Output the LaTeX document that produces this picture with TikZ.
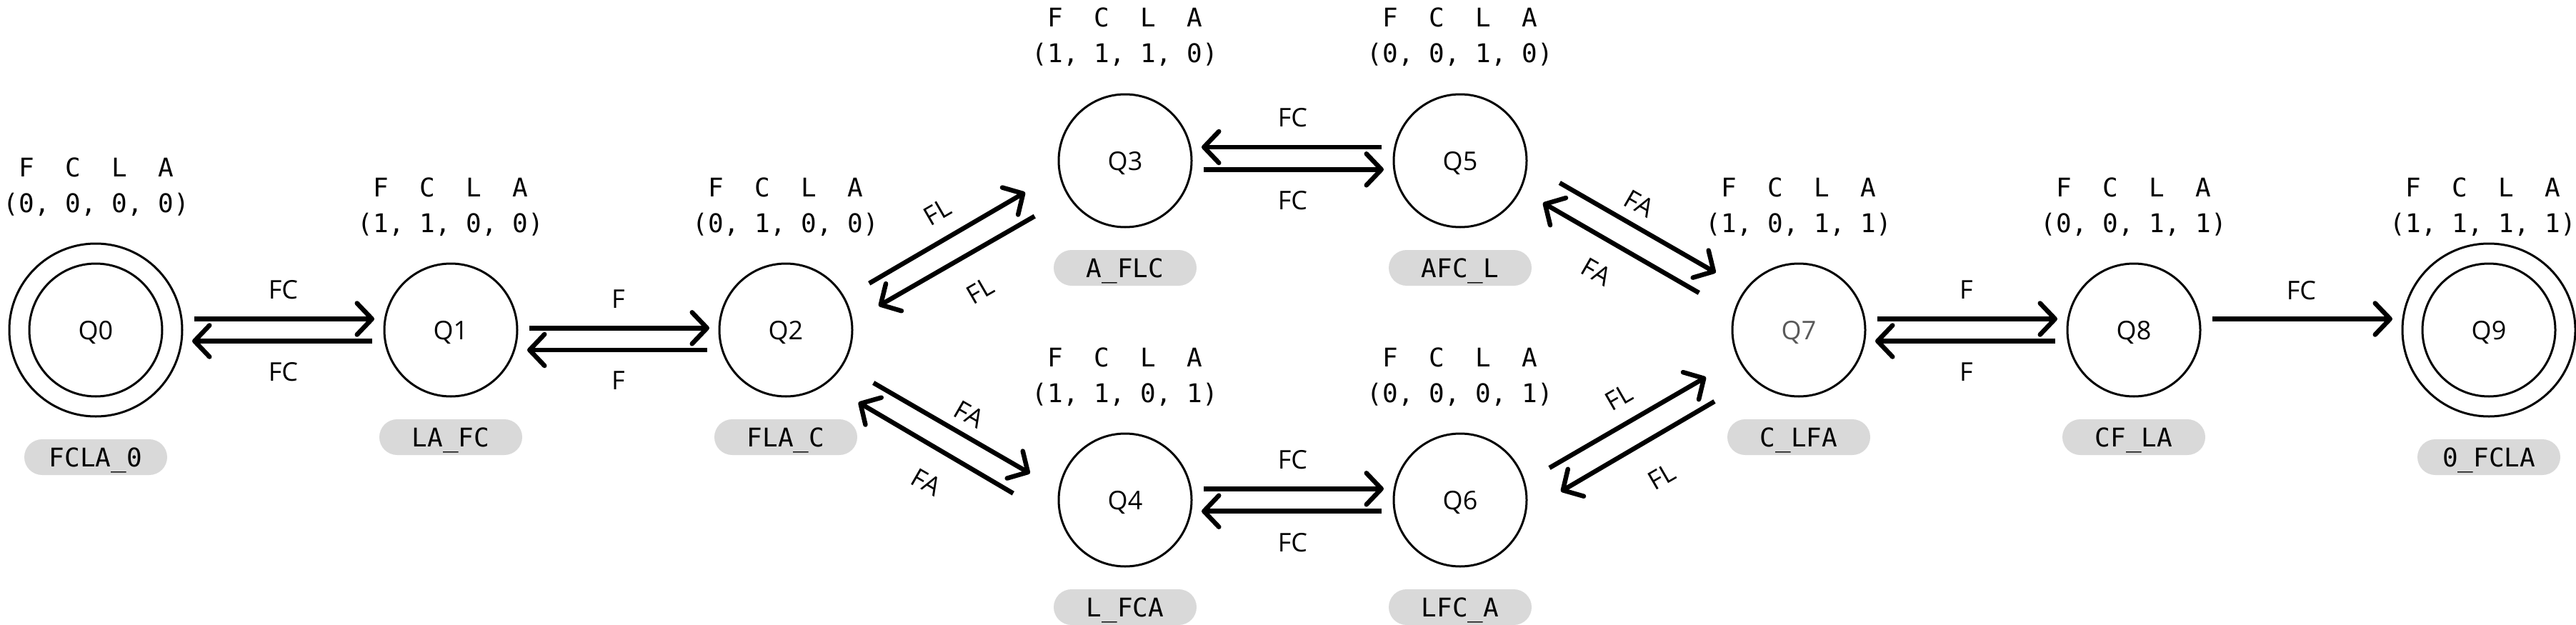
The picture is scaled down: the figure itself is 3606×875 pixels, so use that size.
\documentclass[tikz,border=0pt]{standalone}
\usepackage{fontspec}
\setmainfont{Open Sans}
\newfontfamily\fclamono{DejaVu Sans Mono}
\usetikzlibrary{arrows.meta,calc}
\definecolor{pillgray}{HTML}{D9D9D9}
\definecolor{qgray}{HTML}{595959}
\tikzset{
  state/.style={circle, draw=black, line width=3pt, minimum size=186pt, inner sep=0pt, outer sep=0pt, text depth=0pt, font=\fontsize{36}{40}\selectfont},
  finalstate/.style={state, minimum size=242pt},
  ring/.style={draw=black, line width=3pt},
  pill/.style={rectangle, rounded corners=25pt, fill=pillgray, minimum width=200pt, minimum height=50pt, inner sep=0pt, text depth=0pt, font=\fclamono\fontsize{36}{40}\selectfont},
  vec/.style={anchor=base, inner sep=0pt, font=\fclamono\fontsize{36}{40}\selectfont},
  arr/.style={line width=6.5pt, -{Straight Barb[length=21pt,width=44pt,round]}},
  harr/.style={arr, shorten <=17pt, shorten >=14pt},
  elab/.style={inner sep=0pt, font=\fontsize{36}{40}\selectfont},
}
\begin{document}
\begin{tikzpicture}[x=1pt,y=-1pt]
\useasboundingbox (0,0) rectangle (3606,875);

% states
\node[finalstate] (Q0) at (134,462) {Q0};
\draw[ring] (Q0) circle[radius=93pt];
\node[state] (Q1) at (631,462) {Q1};
\node[state] (Q2) at (1100,462) {Q2};
\node[state] (Q3) at (1575,225) {Q3};
\node[state] (Q4) at (1575,700) {Q4};
\node[state] (Q5) at (2044,225) {Q5};
\node[state] (Q6) at (2044,700) {Q6};
\node[state, text=qgray] (Q7) at (2518,462) {Q7};
\node[state] (Q8) at (2987,462) {Q8};
\node[finalstate] (Q9) at (3484,462) {Q9};
\draw[ring] (Q9) circle[radius=93pt];

% state vectors
\node[vec] (h0) at (135,247) {F~~C~~L~~A};
\node[vec] (v0) at (135,297) {(0, 0, 0, 0)};
\node[vec] (h1) at (631,275) {F~~C~~L~~A};
\node[vec] (v1) at (631,325) {(1, 1, 0, 0)};
\node[vec] (h2) at (1100,275) {F~~C~~L~~A};
\node[vec] (v2) at (1100,325) {(0, 1, 0, 0)};
\node[vec] (h3) at (1575,38) {F~~C~~L~~A};
\node[vec] (v3) at (1575,88) {(1, 1, 1, 0)};
\node[vec] (h4) at (1575,513) {F~~C~~L~~A};
\node[vec] (v4) at (1575,563) {(1, 1, 0, 1)};
\node[vec] (h5) at (2044,38) {F~~C~~L~~A};
\node[vec] (v5) at (2044,88) {(0, 0, 1, 0)};
\node[vec] (h6) at (2044,513) {F~~C~~L~~A};
\node[vec] (v6) at (2044,563) {(0, 0, 0, 1)};
\node[vec] (h7) at (2518,275) {F~~C~~L~~A};
\node[vec] (v7) at (2518,325) {(1, 0, 1, 1)};
\node[vec] (h8) at (2987,275) {F~~C~~L~~A};
\node[vec] (v8) at (2987,325) {(0, 0, 1, 1)};
\node[vec] (h9) at (3476,275) {F~~C~~L~~A};
\node[vec] (v9) at (3476,325) {(1, 1, 1, 1)};

% bank pills
\node[pill] (p0) at (134,640) {FCLA\_0};
\node[pill] (p1) at (631,612) {LA\_FC};
\node[pill] (p2) at (1100,612) {FLA\_C};
\node[pill] (p3) at (1575,375) {A\_FLC};
\node[pill] (p4) at (1575,850) {L\_FCA};
\node[pill] (p5) at (2044,375) {AFC\_L};
\node[pill] (p6) at (2044,850) {LFC\_A};
\node[pill] (p7) at (2518,612) {C\_LFA};
\node[pill] (p8) at (2987,612) {CF\_LA};
\node[pill] (p9) at (3484,640) {0\_FCLA};

% horizontal transitions
\draw[harr] ($(Q0.east)+(0,-15.5)$) -- ($(Q1.west)+(0,-15.5)$) node[midway, elab, above=24.5pt] (e01) {FC};
\draw[harr] ($(Q1.west)+(0,15.5)$) -- ($(Q0.east)+(0,15.5)$) node[midway, elab, below=27pt] (e10) {FC};
\draw[harr] ($(Q1.east)+(0,-2.7)$) -- ($(Q2.west)+(0,-2.7)$) node[midway, elab, above=24.5pt] (e12) {F};
\draw[harr] ($(Q2.west)+(0,28)$) -- ($(Q1.east)+(0,28)$) node[midway, elab, below=27pt] (e21) {F};
\draw[harr] ($(Q5.west)+(0,-19)$) -- ($(Q3.east)+(0,-19)$) node[midway, elab, above=24.5pt] (e53) {FC};
\draw[harr] ($(Q3.east)+(0,12.3)$) -- ($(Q5.west)+(0,12.3)$) node[midway, elab, below=27pt] (e35) {FC};
\draw[harr] ($(Q4.east)+(0,-15.7)$) -- ($(Q6.west)+(0,-15.7)$) node[midway, elab, above=24.5pt] (e46) {FC};
\draw[harr] ($(Q6.west)+(0,15.7)$) -- ($(Q4.east)+(0,15.7)$) node[midway, elab, below=27pt] (e64) {FC};
\draw[harr] ($(Q7.east)+(0,-15.5)$) -- ($(Q8.west)+(0,-15.5)$) node[midway, elab, above=24.5pt] (e78) {F};
\draw[harr] ($(Q8.west)+(0,15.5)$) -- ($(Q7.east)+(0,15.5)$) node[midway, elab, below=27pt] (e87) {F};
\draw[harr] ($(Q8.east)+(0,-15.5)$) -- ($(Q9.west)+(0,-15.5)$) node[midway, elab, above=23pt] (e89) {FC};

% diagonal transitions
\draw[arr] ($(Q2)+(116.7,-65.3)$) -- ($(Q3)+(-140,44.3)$);
\draw[arr] ($(Q3)+(-126.7,77.7)$) -- ($(Q2)+(130,-33.7)$);
\draw[arr] ($(Q2)+(122.7,74)$) -- ($(Q4)+(-133.3,-37.3)$);
\draw[arr] ($(Q4)+(-156.7,-9.3)$) -- ($(Q2)+(101.7,101.3)$);
\draw[arr] ($(Q5)+(139.3,31)$) -- ($(Q7)+(-116.3,-80.3)$);
\draw[arr] ($(Q7)+(-139.7,-52)$) -- ($(Q5)+(116,59)$);
\draw[arr] ($(Q6)+(125,-45)$) -- ($(Q7)+(-130,66)$);
\draw[arr] ($(Q7)+(-118,100)$) -- ($(Q6)+(141,-12)$);

% diagonal labels
\node[elab, rotate=30] (e23) at (1312.3,296.7) {FL};
\node[elab, rotate=30] (e32) at (1371.7,406.7) {FL};
\node[elab, rotate=-30] (e24) at (1356.7,580) {FA};
\node[elab, rotate=-30] (e42) at (1296.7,675) {FA};
\node[elab, rotate=-30] (e57) at (2295,285) {FA};
\node[elab, rotate=-30] (e75) at (2235,380.7) {FA};
\node[elab, rotate=30] (e67) at (2266,556) {FL};
\node[elab, rotate=30] (e76) at (2326,667) {FL};
\end{tikzpicture}
\end{document}
